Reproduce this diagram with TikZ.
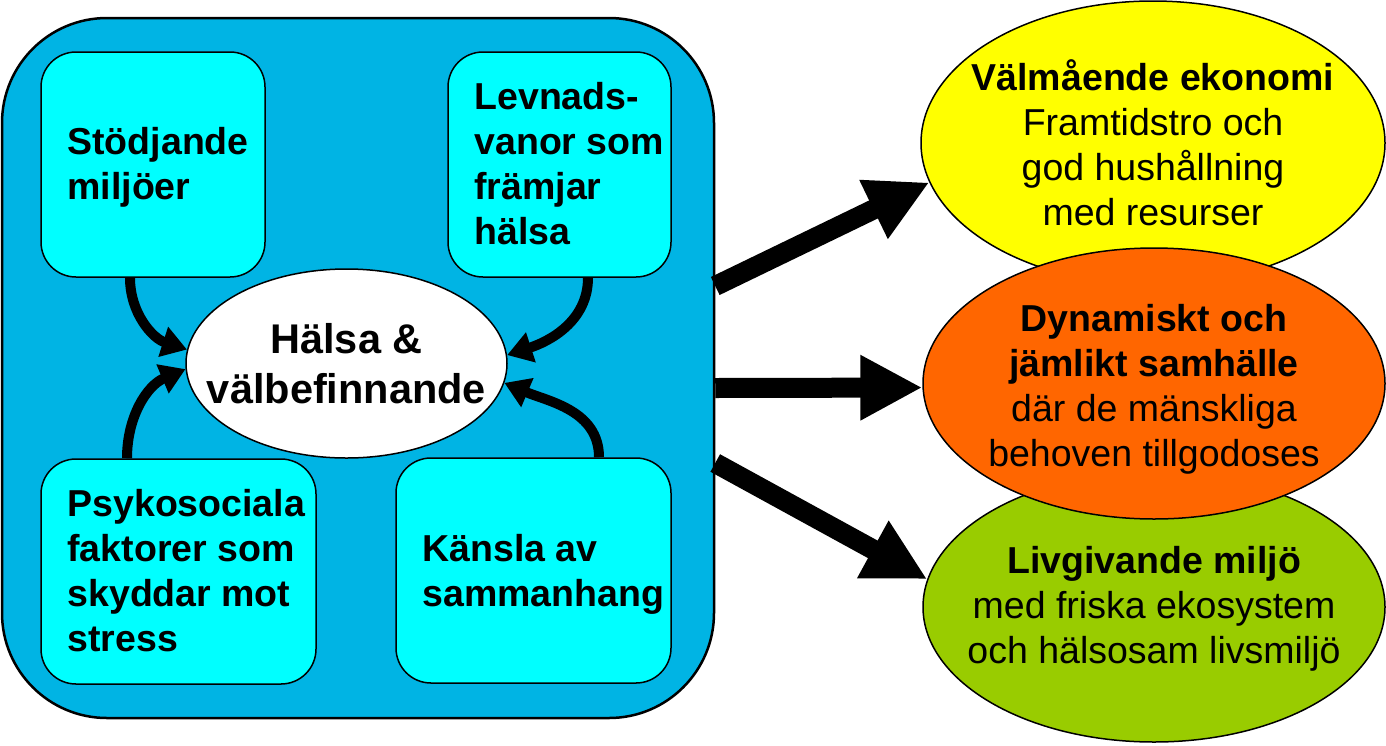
\documentclass[tikz,border=0pt]{standalone}
\usepackage{fontspec}
\setmainfont{Liberation Sans}
\usetikzlibrary{arrows.meta,positioning,shapes.geometric}

\definecolor{ramfarg}{RGB}{0,180,228}
\definecolor{faktorfarg}{RGB}{0,255,255}
\definecolor{gul}{RGB}{255,255,0}
\definecolor{orangefarg}{RGB}{255,102,0}
\definecolor{gron}{RGB}{153,204,0}

\begin{document}
\begin{tikzpicture}[x=1pt,y=1pt,
    faktor/.style={draw=black, line width=1.5pt, fill=faktorfarg, rounded corners=35pt,
        minimum width=#1, minimum height=225pt, inner sep=0pt},
    faktortext/.style={font=\bfseries\fontsize{37.5}{45}\selectfont, align=left, inner sep=0pt},
    mal/.style={ellipse, draw=black, line width=1.5pt, inner sep=0pt},
    maltext/.style={font=\fontsize{37.5}{45}\selectfont, align=center, inner sep=0pt},
    pil/.style={line width=10pt, -{Triangle[length=25pt,width=30pt]}},
    storpil/.style={line width=20pt, -{Triangle[length=62pt,width=61pt]}}]
    \useasboundingbox (0,0) rectangle (1386,-745);

    % Yttre ram
    \node[draw=black, line width=2.5pt, fill=ramfarg, rounded corners=105pt,
        minimum width=712pt, minimum height=700pt] (ram) at (358,-368) {};

    % Faktorer
    \node[faktor=224pt] (stod) at (153,-164.5) {};
    \node[faktor=223pt] (levnad) at (559.5,-164.5) {};
    \node[faktor=275pt] (psyko) at (178.5,-571.5) {};
    \node[faktor=275pt] (kansla) at (533.5,-570.5) {};
    \node[faktortext, below right=76pt and 27pt of stod.north west] (stodtext) {Stödjande\\miljöer};
    \node[faktortext, below right=31pt and 27pt of levnad.north west] (levnadtext) {Levnads-\\vanor som\\främjar\\hälsa};
    \node[faktortext, below right=31pt and 27pt of psyko.north west] (psykotext) {Psykosociala\\faktorer som\\skyddar mot\\stress};
    \node[faktortext, below right=77pt and 27pt of kansla.north west] (kanslatext) {Känsla av\\sammanhang};

    % Hälsa i mitten
    \node[mal, fill=white, minimum width=321pt, minimum height=189pt] (helse) at (346.5,-363.5) {};
    \node[font=\bfseries\fontsize{41.5}{50}\selectfont, align=center, inner sep=0pt] (helsetext) at (helse) {Hälsa \&\\välbefinnande};

    % Pilar in mot mitten
    \draw[pil] ([xshift=-23pt]stod.south) to[out=-90,in=162] (helse.175);
    \draw[pil] ([xshift=28.5pt]levnad.south) to[out=-90,in=18] (helse.3);
    \draw[pil] ([xshift=-51.5pt]psyko.north) to[out=90,in=-157] (helse.182);
    \draw[pil] ([xshift=65.5pt]kansla.north) to[out=90,in=-23] (helse.-7);

    % Mål
    \node[mal, fill=gul, minimum width=464pt, minimum height=284pt] (ekonomi) at (1153,-143) {};
    \node[mal, fill=gron, minimum width=462pt, minimum height=270pt] (miljo) at (1154,-607) {};
    \node[mal, fill=orangefarg, minimum width=462pt, minimum height=271pt] (samhalle) at (1154,-383.5) {};
    \node[maltext] (ekonomitext) at (ekonomi) {\textbf{Välmående ekonomi}\\Framtidstro och\\god hushållning\\med resurser};
    \node[maltext] (samhalletext) at ([yshift=-6pt]samhalle) {\textbf{Dynamiskt och}\\\textbf{jämlikt samhälle}\\där de mänskliga\\behoven tillgodoses};
    \node[maltext] (miljotext) at ([yshift=-1.5pt]miljo) {\textbf{Livgivande miljö}\\med friska ekosystem\\och hälsosam livsmiljö};

    % Stora pilar
    \draw[storpil] ([yshift=82pt]ram.east) -- (ekonomi.190);
    \draw[storpil] ([yshift=-20pt]ram.east) -- (samhalle.181);
    \draw[storpil] ([yshift=-95pt]ram.east) -- (miljo.173);
\end{tikzpicture}
\end{document}
